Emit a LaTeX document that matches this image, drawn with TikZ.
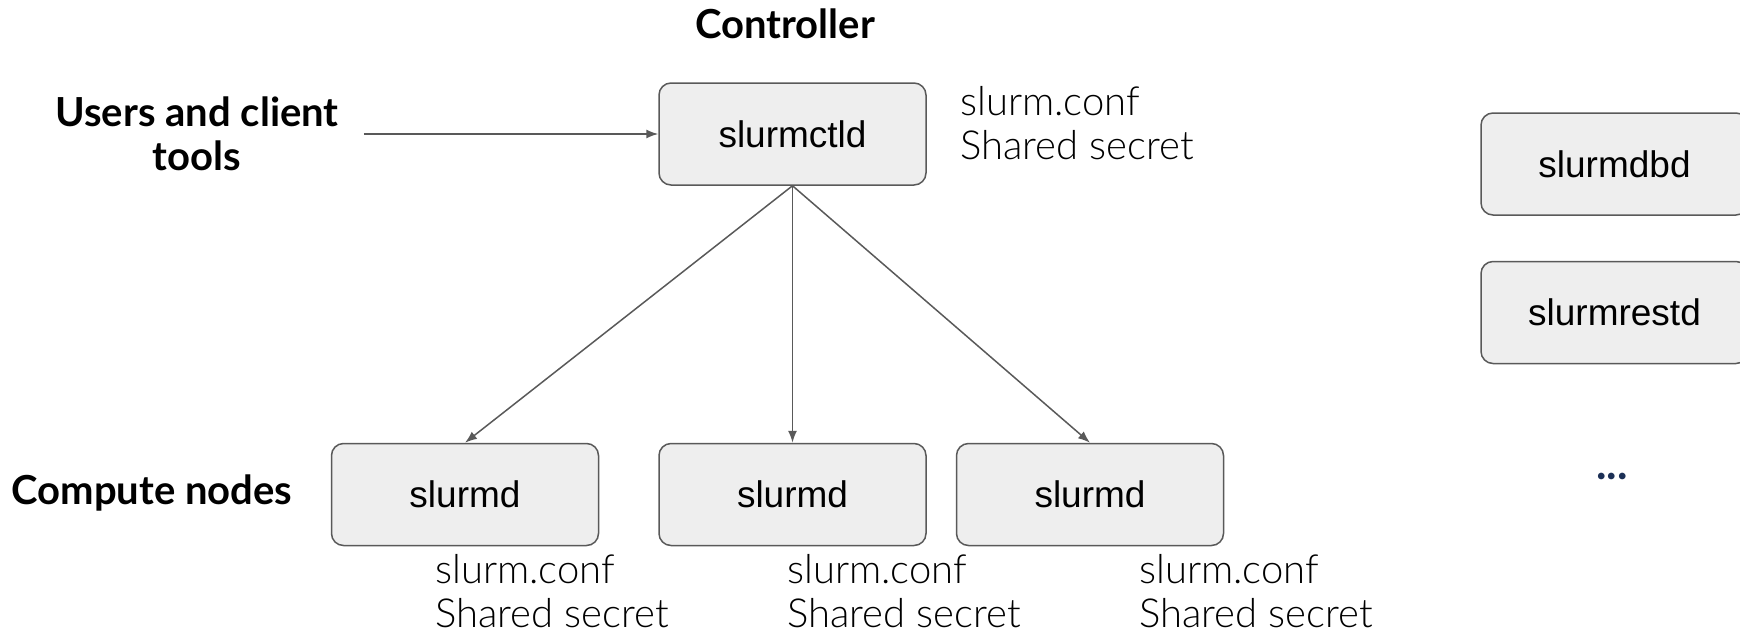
\documentclass[tikz,border=0pt]{standalone}
\usepackage{fontspec}
\setmainfont{Liberation Sans}
\newfontfamily\lblfont{Lato}[UprightFont=* Light, BoldFont=* Bold]
\usetikzlibrary{arrows.meta,positioning}
\definecolor{BoxFill}{RGB}{238,238,238}
\definecolor{LineGray}{RGB}{89,89,89}
\definecolor{DotsNavy}{RGB}{28,48,86}

\tikzset{
  daemon/.style={draw=LineGray, fill=BoxFill, rounded corners=6pt,
    line width=0.75pt, minimum width=133.5pt, minimum height=51pt,
    font=\fontsize{18.5}{22}\selectfont},
  note/.style={font=\lblfont\fontsize{20}{22}\selectfont, align=left,
    inner sep=0pt},
  heading/.style={font=\lblfont\bfseries\fontsize{20}{22}\selectfont,
    align=center, inner sep=0pt},
  link/.style={-{Latex[length=6pt,width=4.5pt]}, draw=LineGray,
    line width=0.75pt}
}

\begin{document}
\begin{tikzpicture}[x=0.5pt,y=-0.5pt]
  \useasboundingbox (0,0) rectangle (1740,632);

  % controller
  \node[heading] (ctrl) at (785,24) {Controller};
  \node[daemon] (ctld) at (792.5,134) {slurmctld};
  \node[note, anchor=west] (ctldnote) at (960,123) {slurm.conf\\Shared secret};

  \node[heading] (users) at (197,134) {Users and client\\tools};
  \draw[link] ([xshift=12.5pt]users.east) -- (ctld);

  % compute nodes
  \node[daemon, below=128.5pt of ctld] (d2) {slurmd};
  \node[daemon, left=29.5pt of d2] (d1) {slurmd};
  \node[daemon, right=14.5pt of d2] (d3) {slurmd};
  \node[heading, anchor=west] (comp) at (11,493) {Compute nodes};

  \foreach \d/\x in {d1/435,d2/787,d3/1139}{
    \node[note, anchor=west] (\d note) at (\x,591) {slurm.conf\\Shared secret};
    \draw[link] (ctld.south) -- (\d.north);
  }

  % other daemons
  \node[daemon] (dbd) at (1614.5,164) {slurmdbd};
  \node[daemon] (rest) at (1614.5,312.5) {slurmrestd};
  \node[font=\lblfont\bfseries\fontsize{22}{24}\selectfont, text=DotsNavy] (more) at (1612,476) {...};
\end{tikzpicture}
\end{document}
